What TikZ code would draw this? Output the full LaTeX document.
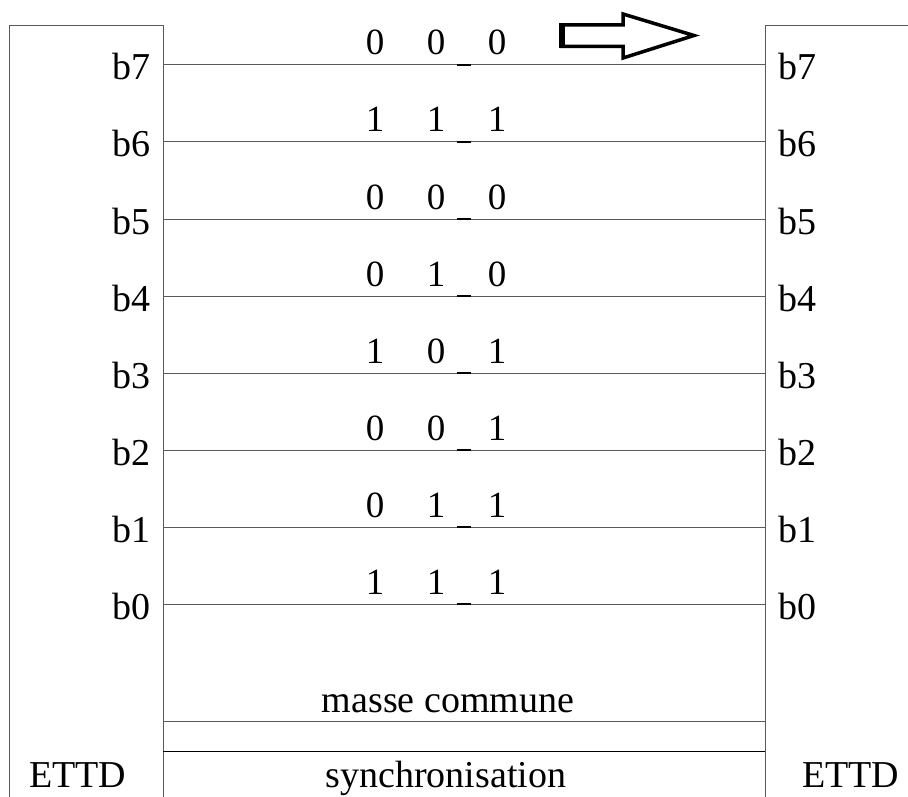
\documentclass[tikz,border=0pt]{standalone}
\usepackage{fontspec}
\setmainfont{Liberation Serif}
\begin{document}
\begin{tikzpicture}[x=1pt,y=-1pt,
  wire/.style={draw=black!65, line width=1pt},
  lbl/.style={inner sep=0pt, font=\fontsize{38}{40}\selectfont},
  bit/.style={inner sep=0pt, font=\fontsize{37}{40}\selectfont, anchor=base},
  underbar/.style={draw=black, line width=2.5pt},
  blockarrow/.style={draw=black, line width=3.5pt, line join=miter, fill=white}]
\useasboundingbox (0,0) rectangle (908,797);
% ETTD boxes (open at bottom)
\coordinate (lbl) at (9,797); \coordinate (ltl) at (9,26);
\coordinate (ltr) at (163,26); \coordinate (lbr) at (163,797);
\coordinate (rbl) at (765,797); \coordinate (rtl) at (765,26); \coordinate (rtr) at (908,26);
\draw[wire] (lbl) -- (ltl) -- (ltr) -- (lbr);
\draw[wire] (rbl) -- (rtl) -- (rtr);
% data lines
\foreach \i/\y/\a/\b/\c in {7/65/0/0/0, 6/142/1/1/1, 5/219/0/0/0, 4/296/0/1/0, 3/373/1/0/1, 2/450/0/0/1, 1/527/0/1/1, 0/604/1/1/1}{
  \coordinate (L\i) at (163,\y);
  \coordinate (R\i) at (765,\y);
  \draw[wire] (L\i) -- (R\i);
  \node[lbl, anchor=base east] (lb\i) at (151,\y+15) {b\i};
  \node[lbl, anchor=base west] (rb\i) at (778,\y+15) {b\i};
  \node[bit] (da\i) at (375,\y-10) {\a};
  \node[bit] (db\i) at (436,\y-10) {\b};
  \node[bit] (dc\i) at (497,\y-10) {\c};
  \coordinate (ua\i) at (457,\y);
  \coordinate (ub\i) at (471,\y);
  \draw[underbar] (ua\i) -- (ub\i);
}
% masse commune and synchronisation
\coordinate (mL) at (163,721); \coordinate (mR) at (765,721);
\coordinate (sL) at (163,751); \coordinate (sR) at (765,751);
\draw[wire] (mL) -- (mR);
\draw[draw=black, line width=1pt] (sL) -- (sR);
\node[lbl, anchor=base] (masse) at (448,712) {masse commune};
\node[lbl, anchor=base] (sync) at (446,787) {synchronisation};
\node[lbl, anchor=base west] (ettdL) at (29,787) {ETTD};
\node[lbl, anchor=base west] (ettdR) at (802,787) {ETTD};
% block arrow
\draw[blockarrow] (562,25) -- (623,25) -- (623,14) -- (694,35.5) -- (623,58) -- (623,46.5) -- (562,46.5) -- cycle;
\draw[draw=black, line width=6pt] (562,23.5) -- (562,48);
\end{tikzpicture}
\end{document}
